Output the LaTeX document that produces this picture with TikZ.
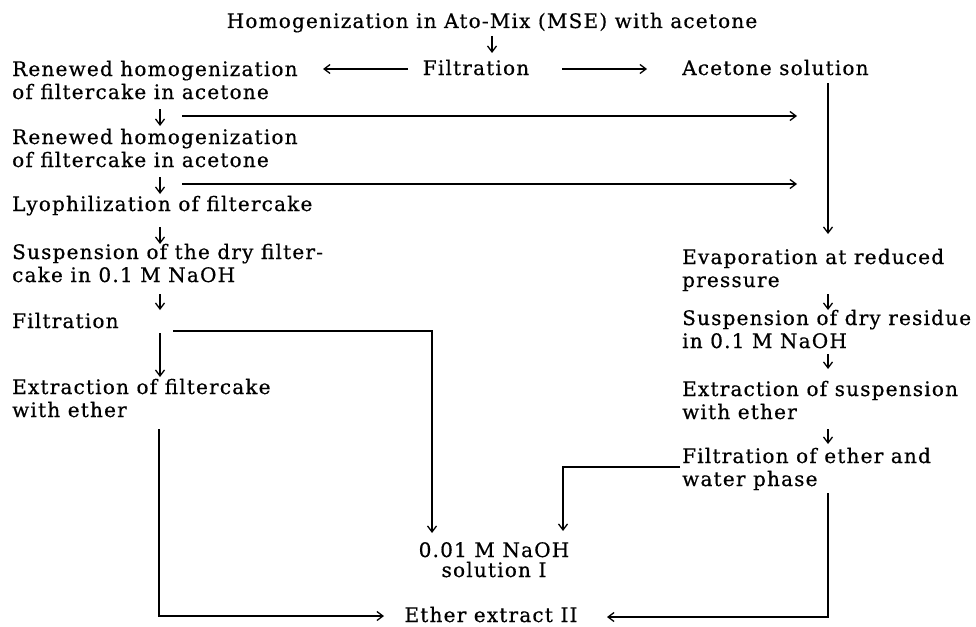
\documentclass[tikz,border=0pt]{standalone}
\usepackage{fontspec}
\setmainfont{DejaVu Serif}[LetterSpace=6,FakeBold=0.6]
\usetikzlibrary{arrows.meta}
\begin{document}
\begin{tikzpicture}[x=1pt,y=-1pt,
  txt/.style={inner sep=0pt, align=left, font=\fontsize{20}{23}\selectfont},
  ctxt/.style={inner sep=0pt, align=center, font=\fontsize{20}{20}\selectfont},
  con/.style={line width=1.3pt},
  arr/.style={con, -{Straight Barb[length=6pt,width=9pt]}}]
\useasboundingbox[fill=white] (0,0) rectangle (976,626);

% nodes (anchor base = baseline of the last line)
\node[txt, anchor=base] (hom) at (492,28) {Homogenization in Ato-Mix (MSE) with acetone};
\node[txt, anchor=base] (fil) at (476,75) {Filtration};
\node[txt, anchor=base west] (ren1) at (12,99) {Renewed homogenization\\of filtercake in acetone};
\node[txt, anchor=base west] (ace) at (682,75) {Acetone solution};
\node[txt, anchor=base west] (ren2) at (12,167) {Renewed homogenization\\of filtercake in acetone};
\node[txt, anchor=base west] (lyo) at (12,211) {Lyophilization of filtercake};
\node[txt, anchor=base west] (sus1) at (12,282) {Suspension of the dry filter-\\cake in 0.1 M NaOH};
\node[txt, anchor=base west] (fil2) at (12,328) {Filtration};
\node[txt, anchor=base west] (ext1) at (12,417) {Extraction of filtercake\\with ether};
\node[txt, anchor=base west] (eva) at (682,287) {Evaporation at reduced\\pressure};
\node[txt, anchor=base west] (sus2) at (682,348) {Suspension of dry residue\\in 0.1 M NaOH};
\node[txt, anchor=base west] (ext2) at (682,419) {Extraction of suspension\\with ether};
\node[txt, anchor=base west] (fil3) at (682,486) {Filtration of ether and\\water phase};
\node[ctxt, anchor=base] (sol) at (494,577) {0.01 M NaOH\\solution I};
\node[txt, anchor=base] (eth) at (491,622) {Ether extract II};

% bend points
\coordinate (b1) at (432,331);
\coordinate (b2) at (159,616);
\coordinate (b3) at (563,467);
\coordinate (b4) at (828,617);

% connectors
\draw[arr] (492,36) -- (492,53);
\draw[arr] (408,69) -- (323,69);
\draw[arr] (562,69) -- (647,69);
\draw[arr] (828,83) -- (828,234);
\draw[arr] (160,109) -- (160,126);
\draw[arr] (182,116) -- (797,116);
\draw[arr] (160,177) -- (160,194);
\draw[arr] (182,184) -- (797,184);
\draw[arr] (160,227) -- (160,244);
\draw[arr] (160,294) -- (160,310);
\draw[arr] (160,333) -- (160,377);
\draw[arr] (173,331) -- (b1) -- (432,533);
\draw[arr] (159,429) -- (b2) -- (384,616);
\draw[arr] (828,294) -- (828,310);
\draw[arr] (828,354) -- (828,369);
\draw[arr] (828,429) -- (828,444);
\draw[arr] (680,467) -- (b3) -- (563,531);
\draw[arr] (828,493) -- (b4) -- (607,617);
\end{tikzpicture}
\end{document}
